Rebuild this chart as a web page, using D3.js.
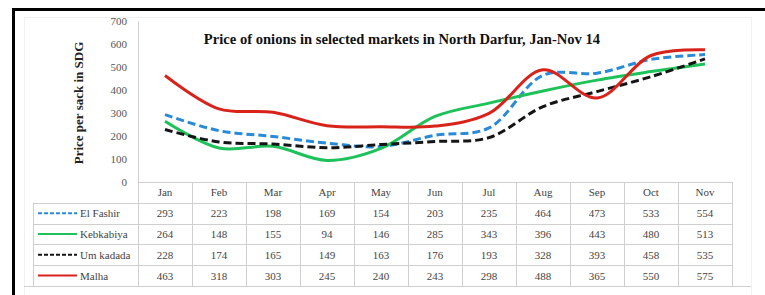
<!DOCTYPE html>
<meta charset="utf-8">
<style>
body { margin: 0; background: #fff; }
text { font-family: "Liberation Serif", "DejaVu Serif", serif; }
.cell text { font-size: 11px; fill: #444; }
.grid line { stroke: #cfcfcf; stroke-width: 1; }
.y-axis text { font-size: 11px; fill: #555; }
.y-axis path { stroke: #cfcfcf; }
</style>
<svg width="765" height="295"></svg>
<script src="https://d3js.org/d3.v7.min.js"></script>
<script>

var months = ["Jan", "Feb", "Mar", "Apr", "May", "Jun", "Jul", "Aug", "Sep", "Oct", "Nov"];
var seriesNames = ["El Fashir", "Kebkabiya", "Um kadada", "Malha"];
var elFashir = [293, 223, 198, 169, 154, 203, 235, 464, 473, 533, 554];
var kebkabiya = [264, 148, 155, 94, 146, 285, 343, 396, 443, 480, 513];
var umKadada = [228, 174, 165, 149, 163, 176, 193, 328, 393, 458, 535];
var malha = [463, 318, 303, 245, 240, 243, 298, 488, 365, 550, 575];
var yTicks = [0, 100, 200, 300, 400, 500, 600, 700];

var series = [
  { name: seriesNames[0], values: elFashir, color: "#2a8ad6", dash: "8,4" },
  { name: seriesNames[1], values: kebkabiya, color: "#1fc25a", dash: null },
  { name: seriesNames[2], values: umKadada, color: "#151515", dash: "8,4" },
  { name: seriesNames[3], values: malha, color: "#d8231b", dash: null }
];

var svg = d3.select("svg");

// outer black frame and faint chart area
svg.append("rect")
    .attr("x", 13.5).attr("y", 9.5)
    .attr("width", 800).attr("height", 400)
    .attr("fill", "none").attr("stroke", "#000").attr("stroke-width", 3);
svg.append("rect")
    .attr("x", 24.5).attr("y", 17.5)
    .attr("width", 727).attr("height", 300)
    .attr("fill", "none").attr("stroke", "#f1f1f1");

var x = d3.scaleBand().domain(months).range([138, 732]);
var y = d3.scaleLinear().domain([0, 700]).range([182, 21]);
var row = d3.scaleBand().domain(["header"].concat(seriesNames)).range([182, 286]);

// y axis
var yAxis = svg.append("g")
    .attr("class", "y-axis")
    .attr("transform", "translate(138,0)")
    .call(d3.axisLeft(y).tickValues(yTicks).tickSize(0).tickPadding(11));
yAxis.select(".domain").attr("stroke", "#cfcfcf");

svg.append("text")
    .attr("transform", "translate(83,103) rotate(-90)")
    .attr("text-anchor", "middle")
    .attr("font-size", 13)
    .attr("font-weight", "bold")
    .attr("fill", "#222")
    .text("Price per sack in SDG");

svg.append("text")
    .attr("x", 402).attr("y", 44)
    .attr("text-anchor", "middle")
    .attr("font-size", 14.6)
    .attr("font-weight", "bold")
    .attr("fill", "#111")
    .text("Price of onions in selected markets in North Darfur, Jan-Nov 14");

// data table grid
var grid = svg.append("g").attr("class", "grid");
grid.append("line").attr("x1", 138).attr("x2", 732).attr("y1", 182.5).attr("y2", 182.5);
seriesNames.forEach(function(n) {
  grid.append("line").attr("x1", 33).attr("x2", 732)
      .attr("y1", Math.round(row(n)) + 0.5).attr("y2", Math.round(row(n)) + 0.5);
});
grid.append("line").attr("x1", 24).attr("x2", 751).attr("y1", 286.5).attr("y2", 286.5);
months.forEach(function(m) {
  grid.append("line")
      .attr("x1", Math.round(x(m)) + 0.5).attr("x2", Math.round(x(m)) + 0.5)
      .attr("y1", 182).attr("y2", 286);
});
grid.append("line").attr("x1", 732.5).attr("x2", 732.5).attr("y1", 182).attr("y2", 286);
grid.append("line").attr("x1", 33.5).attr("x2", 33.5).attr("y1", row(seriesNames[0])).attr("y2", 286);

var cells = svg.append("g").attr("class", "cell");
cells.selectAll(".month")
    .data(months)
    .enter().append("text")
      .attr("x", function(d) { return x(d) + x.bandwidth() / 2; })
      .attr("y", row("header") + row.bandwidth() / 2 + 4)
      .attr("text-anchor", "middle")
      .text(function(d) { return d; });

series.forEach(function(s) {
  var cy = row(s.name) + row.bandwidth() / 2;
  cells.selectAll(null)
      .data(s.values)
      .enter().append("text")
        .attr("x", function(d, i) { return x(months[i]) + x.bandwidth() / 2; })
        .attr("y", cy + 4)
        .attr("text-anchor", "middle")
        .text(function(d) { return d; });
  cells.append("line")
      .attr("x1", 38).attr("x2", 77).attr("y1", cy).attr("y2", cy)
      .attr("stroke", s.color).attr("stroke-width", 2)
      .attr("stroke-dasharray", s.dash ? "4,2" : null);
  cells.append("text")
      .attr("x", 80).attr("y", cy + 4)
      .text(s.name);
});

// lines
var line = d3.line()
    .x(function(d, i) { return x(months[i]) + x.bandwidth() / 2; })
    .y(function(d) { return y(d); })
    .curve(d3.curveCatmullRom.alpha(0.5));

svg.append("g").selectAll("path")
    .data(series)
    .enter().append("path")
      .attr("d", function(d) { return line(d.values); })
      .attr("fill", "none")
      .attr("stroke", function(d) { return d.color; })
      .attr("stroke-width", 3)
      .attr("stroke-dasharray", function(d) { return d.dash; });

</script>
